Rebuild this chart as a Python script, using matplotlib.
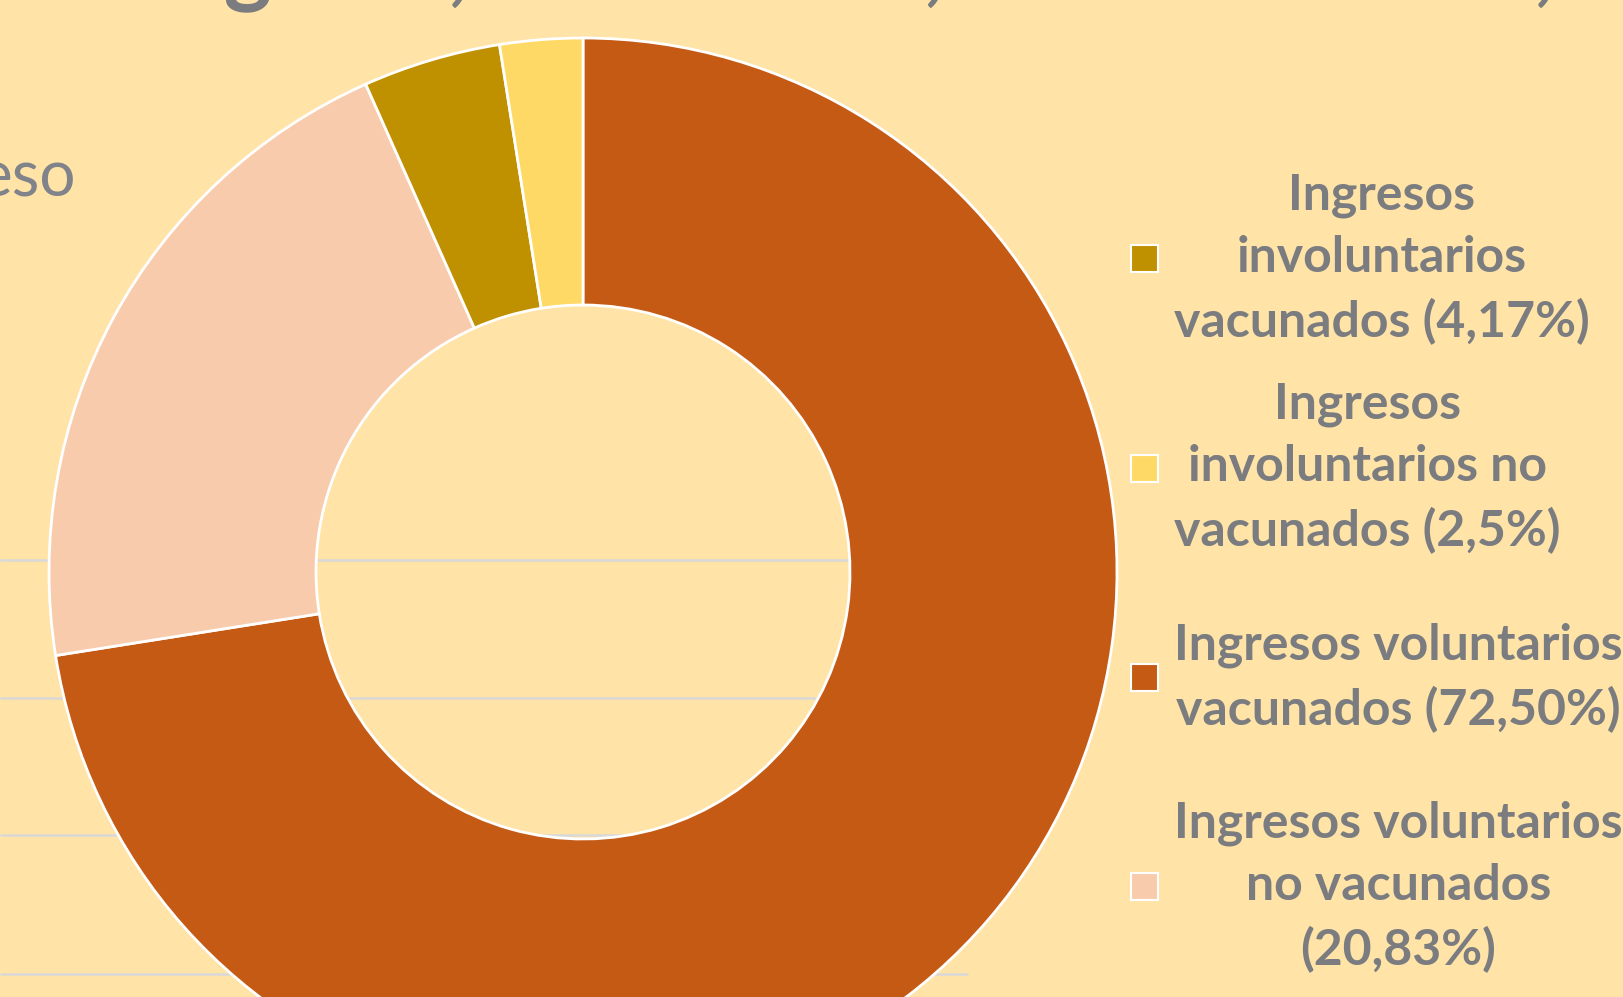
import matplotlib
matplotlib.use("Agg")
import matplotlib.pyplot as plt
from matplotlib.patches import Rectangle

# datos (orden de la leyenda)
etiquetas = ["Ingresos\ninvoluntarios\nvacunados (4,17%)",
             "Ingresos\ninvoluntarios no\nvacunados (2,5%)",
             "Ingresos voluntarios\nvacunados (72,50%)",
             "Ingresos voluntarios\nno vacunados\n(20,83%)"]
valores = [4.17, 2.5, 72.50, 20.83]
colores = ["#BF9000", "#FFD966", "#C55A15", "#F8CBAD"]
# orden en que aparecen en el anillo (sentido horario desde arriba)
orden_anillo = [2, 3, 0, 1]
titulo = "Ingreso, Voluntario, o involuntario,"

fondo = "#FFE3A7"
gris = "#7A7C80"
plt.rcParams['font.family'] = ['Lato', 'DejaVu Sans']

W, H = 1624, 997
fig = plt.figure(figsize=(W / 100, H / 100), dpi=100, facecolor=fondo)
ax = fig.add_axes([0, 0, 1, 1])
ax.set_facecolor(fondo)

# lineas de la grafica de fondo
for yy in [560, 698, 835, 974]:
    ax.hlines(H - yy, 0, 968, color="#D9D9D9", lw=1.8, zorder=0)

# anillo
ax.pie([valores[i] for i in orden_anillo],
       colors=[colores[i] for i in orden_anillo],
       startangle=90, counterclock=False,
       center=(583, H - 572), radius=534,
       wedgeprops=dict(width=267, edgecolor="white", linewidth=2),
       frame=True)
ax.set_xlim(0, W)
ax.set_ylim(0, H)
ax.set_aspect('auto')
ax.axis('off')

# leyenda
for i, (lab, col) in enumerate(zip(etiquetas, colores)):
    yc = H - (259 + i * 209.3)
    ax.add_patch(Rectangle((1131, yc - 13.5), 27, 27, facecolor=col,
                           edgecolor="white", linewidth=1.5, clip_on=False))
    ax.text(1174, yc, lab, ha='left', va='center', multialignment='center',
            fontsize=36, fontweight='bold', color=gris, linespacing=1.46)

# restos de textos cortados
ax.text(76, H - 197, "eso", ha='right', va='baseline', fontsize=46,
        color="#80838A")
t = ax.text(145, H + 6, titulo, ha='left', va='baseline', fontsize=52,
            fontweight='bold', color=gris)
# ajustar el titulo al ancho que ocupa en la imagen
r = fig.canvas.get_renderer()
ancho = t.get_window_extent(r).width
t.set_fontsize(52 * 1410 / ancho)

fig.savefig("out.png", dpi=100, facecolor=fondo)
